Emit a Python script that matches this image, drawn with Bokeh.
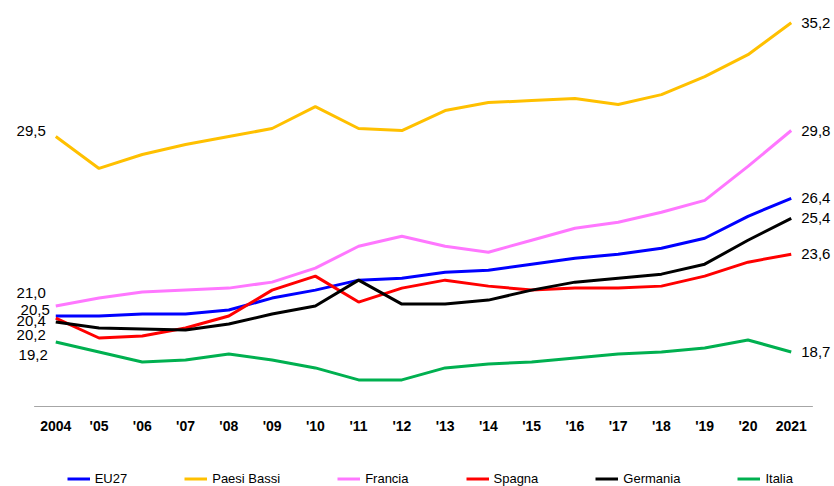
from bokeh.plotting import figure
from bokeh.layouts import column
from bokeh.models import (ColumnDataSource, FactorRange, Range1d, LabelSet,
                          Legend, LegendItem)
from bokeh.core.properties import value
from bokeh.embed import file_html
from bokeh.resources import INLINE

years = ["2004", "'05", "'06", "'07", "'08", "'09", "'10", "'11", "'12",
         "'13", "'14", "'15", "'16", "'17", "'18", "'19", "'20", "2021"]

eu27 = [20.5, 20.5, 20.6, 20.6, 20.8, 21.4, 21.8, 22.3, 22.4,
        22.7, 22.8, 23.1, 23.4, 23.6, 23.9, 24.4, 25.5, 26.4]
paesi_bassi = [29.5, 27.9, 28.6, 29.1, 29.5, 29.9, 31.0, 29.9, 29.8,
               30.8, 31.2, 31.3, 31.4, 31.1, 31.6, 32.5, 33.6, 35.2]
francia = [21.0, 21.4, 21.7, 21.8, 21.9, 22.2, 22.9, 24.0, 24.5,
           24.0, 23.7, 24.3, 24.9, 25.2, 25.7, 26.3, 28.0, 29.8]
spagna = [20.4, 19.4, 19.5, 19.9, 20.5, 21.8, 22.5, 21.2, 21.9,
          22.3, 22.0, 21.8, 21.9, 21.9, 22.0, 22.5, 23.2, 23.6]
germania = [20.2, 19.9, 19.85, 19.8, 20.1, 20.6, 21.0, 22.3, 21.1,
            21.1, 21.3, 21.8, 22.2, 22.4, 22.6, 23.1, 24.3, 25.4]
italia = [19.2, 18.7, 18.2, 18.3, 18.6, 18.3, 17.9, 17.3, 17.3,
          17.9, 18.1, 18.2, 18.4, 18.6, 18.7, 18.9, 19.3, 18.7]

series_names = ["EU27", "Paesi Bassi", "Francia", "Spagna", "Germania", "Italia"]
series_values = [eu27, paesi_bassi, francia, spagna, germania, italia]
series_colors = ["#0000ff", "#ffc000", "#ff77ff", "#ff0000", "#000000", "#00b050"]

# label placement (styling, screen offsets)
left_dx = [-6, -10, -10, -10, -10, -8]
left_dy = [5.6, 5.3, 13.0, -3.4, -13.4, -13.0]

Y_MIN, Y_MAX = 15.916, 35.816
AXIS_Y = 15.966

FONT = "Liberation Sans"

p = figure(width=834, height=440, output_backend="svg", toolbar_location=None,
           x_range=FactorRange(*years, range_padding=0.5,
                               range_padding_units="absolute", factor_padding=0),
           y_range=Range1d(Y_MIN, Y_MAX), y_axis_location=None,
           min_border_left=12, min_border_right=0, min_border_top=10,
           min_border_bottom=33)
p.outline_line_color = None
p.xgrid.visible = False
p.ygrid.visible = False
p.background_fill_color = "white"
p.border_fill_color = "white"

ax = p.xaxis[0]
ax.axis_line_color = None
ax.major_tick_line_color = None
ax.minor_tick_line_color = None
ax.major_tick_out = 0
ax.major_tick_in = 0
ax.major_label_standoff = 10
ax.major_label_text_font = FONT
ax.major_label_text_font_style = "bold"
ax.major_label_text_font_size = "14px"
ax.major_label_text_color = "#000000"

# visible axis line spanning only the categories
p.segment(x0=[(years[0], -0.5)], x1=[(years[-1], 0.5)], y0=[AXIS_Y], y1=[AXIS_Y],
          line_color="#a6a6a6", line_width=1)

first_x, first_y, first_t, last_x, last_y, last_t = [], [], [], [], [], []
for name, vals, col in zip(series_names, series_values, series_colors):
    src = ColumnDataSource(dict(x=years, y=vals))
    p.line("x", "y", source=src, line_color=col, line_width=3)
    first_x.append(years[0]); first_y.append(vals[0])
    first_t.append(f"{vals[0]:.1f}".replace(".", ","))
    last_x.append(years[-1]); last_y.append(vals[-1])
    last_t.append(f"{vals[-1]:.1f}".replace(".", ","))

for i in range(len(series_names)):
    s = ColumnDataSource(dict(x=[first_x[i]], y=[first_y[i]], t=[first_t[i]]))
    p.add_layout(LabelSet(x="x", y="y", text="t", source=s,
                          x_offset=left_dx[i], y_offset=left_dy[i],
                          text_align="right", text_baseline="middle",
                          text_font=value(FONT), text_font_size="15px",
                          text_color="#000000"))

rs = ColumnDataSource(dict(x=last_x, y=last_y, t=last_t))
p.add_layout(LabelSet(x="x", y="y", text="t", source=rs, x_offset=10, y_offset=0,
                      text_align="left", text_baseline="middle",
                      text_font=value(FONT), text_font_size="15px",
                      text_color="#000000"))

# legend strip below the chart (series drawn again, in the same data
# coordinates, outside this strip's visible range; only their legend shows)
pl = figure(width=834, height=46, output_backend="svg", toolbar_location=None,
            x_range=FactorRange(*years), y_range=Range1d(100, 101),
            x_axis_location=None, y_axis_location=None,
            min_border_left=0, min_border_right=0, min_border_top=0,
            min_border_bottom=0)
pl.outline_line_color = None
pl.xgrid.visible = False
pl.ygrid.visible = False

items = []
for name, vals, col in zip(series_names, series_values, series_colors):
    r = pl.line(x=years, y=vals, line_color=col, line_width=3)
    items.append(LegendItem(label=name, renderers=[r]))

legend = Legend(items=items, orientation="horizontal", location=(54.7, 0),
                glyph_width=23, glyph_height=13, label_height=13,
                label_standoff=5, spacing=57, padding=0, margin=0,
                border_line_color=None, background_fill_alpha=0,
                label_text_font=FONT, label_text_font_size="13px",
                label_text_color="#000000", label_text_baseline="middle")
pl.add_layout(legend, "center")

layout = column(p, pl, spacing=0)
open("out.html", "w").write(file_html(layout, INLINE))
